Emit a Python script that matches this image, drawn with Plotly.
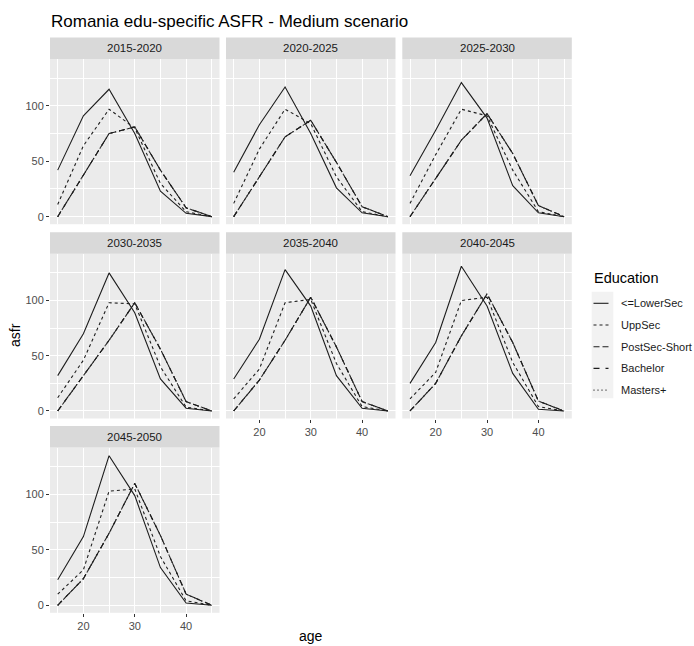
import plotly.graph_objects as go

# ---------------- data ----------------
ages = [15, 20, 25, 30, 35, 40, 45]
periods = ["2015-2020", "2020-2025", "2025-2030", "2030-2035",
           "2035-2040", "2040-2045", "2045-2050"]
education = ["<=LowerSec", "UppSec", "PostSec-Short", "Bachelor", "Masters+"]

lower_sec = {
    "2015-2020": [42, 91, 115, 75, 23, 3, 0],
    "2020-2025": [40, 83, 117, 75, 26, 3.5, 0],
    "2025-2030": [37, 78, 121, 89, 28, 3.5, 0],
    "2030-2035": [32, 70, 125, 89, 29, 2.5, 0],
    "2035-2040": [29, 65, 128, 95, 32, 2.5, 0],
    "2040-2045": [25, 62, 131, 95, 34, 1.5, 0],
    "2045-2050": [23, 62, 135, 99, 34, 2, 0],
}
upp_sec = {
    "2015-2020": [11, 64, 97, 80, 30, 4.5, 0],
    "2020-2025": [12, 61, 97, 84, 36, 4.5, 0],
    "2025-2030": [12, 56, 97, 91, 42, 4.5, 0],
    "2030-2035": [12, 46, 98, 97, 40, 3.5, 0],
    "2035-2040": [11, 38, 98, 101, 43, 4, 0],
    "2040-2045": [11, 35, 100, 103, 44, 4, 0],
    "2045-2050": [10, 32, 103, 105, 44, 4, 0],
}
postsec_short = {
    "2015-2020": [0, 37, 75, 81, 42, 8, 0],
    "2020-2025": [0, 36, 72, 87, 49, 9, 0],
    "2025-2030": [0, 34, 69, 93, 57, 10, 0],
    "2030-2035": [0, 32, 64, 98, 56, 8.5, 0],
    "2035-2040": [0, 28, 64, 103, 58, 8.5, 0],
    "2040-2045": [0, 25, 68, 106, 62, 9, 0],
    "2045-2050": [0, 24, 65, 110, 63, 10, 0],
}
bachelor = {k: list(v) for k, v in postsec_short.items()}
masters = {k: list(v) for k, v in postsec_short.items()}

series = [lower_sec, upp_sec, postsec_short, bachelor, masters]
dashes = ["solid", "3px,3px", "6px,3px", "6px,6px", "1px,3px"]

# ---------------- layout geometry ----------------
W, H = 694, 646
col_px = [(50, 219.5), (226, 395.5), (402.3, 571.8)]
row_px = [(58.9, 224.2), (253.7, 418.5), (447.5, 612.8)]
strip_h = 21.5


def px_x(a):
    return a / W


def px_y(b):
    return 1 - b / H


fig = go.Figure()
LINE = "#1e1e1e"

shapes = []
annotations = []
for i, p in enumerate(periods):
    r, c = divmod(i, 3)
    n = "" if i == 0 else str(i + 1)
    x0, x1 = col_px[c]
    yt, yb = row_px[r]
    show_x = (r == 2) or (r == 1 and c > 0)
    show_y = c == 0
    fig.update_layout({
        f"xaxis{n}": dict(
            domain=[px_x(x0), px_x(x1)], anchor=f"y{n}", range=[13.5, 46.5],
            tickvals=[20, 30, 40], showticklabels=show_x,
            ticks="outside" if show_x else "", ticklen=3, tickcolor="#333333",
            tickfont=dict(size=11, color="#4D4D4D"),
            showgrid=True, gridcolor="white", gridwidth=1.3, zeroline=False,
            minor=dict(tickvals=[15, 25, 35, 45], showgrid=True,
                       gridcolor="white", gridwidth=0.6, ticks=""),
            showline=False, fixedrange=True,
        ),
        f"yaxis{n}": dict(
            domain=[px_y(yb), px_y(yt)], anchor=f"x{n}", range=[-6.8, 142.4],
            tickvals=[0, 50, 100], showticklabels=show_y,
            ticks="outside" if show_y else "", ticklen=3, tickcolor="#333333",
            tickfont=dict(size=11, color="#4D4D4D"),
            showgrid=True, gridcolor="white", gridwidth=1.3, zeroline=False,
            minor=dict(tickvals=[25, 75, 125], showgrid=True,
                       gridcolor="white", gridwidth=0.6, ticks=""),
            showline=False, fixedrange=True,
        ),
    })
    # strip
    shapes.append(dict(type="rect", xref="paper", yref="paper",
                       x0=px_x(x0), x1=px_x(x1), y0=px_y(yt), y1=px_y(yt - strip_h),
                       fillcolor="#D9D9D9", line=dict(width=0), layer="below"))
    annotations.append(dict(text=p, xref="paper", yref="paper",
                            x=px_x((x0 + x1) / 2), y=px_y(yt - strip_h / 2),
                            xanchor="center", yanchor="middle", showarrow=False,
                            font=dict(size=11.5, color="#1A1A1A")))
    for k, (name, s) in enumerate(zip(education, series)):
        fig.add_trace(go.Scatter(
            x=ages, y=s[p], mode="lines", name=name, legendgroup=name,
            showlegend=False, xaxis=f"x{n}", yaxis=f"y{n}",
            line=dict(color=LINE, width=1.1, dash=dashes[k]),
            hoverinfo="skip",
        ))

# ---------------- legend (ggplot-style guide) ----------------
shapes.append(dict(type="rect", xref="paper", yref="paper",
                   x0=px_x(591.7), x1=px_x(613.3), y0=px_y(398.3), y1=px_y(291.7),
                   fillcolor="#F2F2F2", line=dict(width=0), layer="below"))
leg_y0, leg_step = 303.3, 21.7
for k, name in enumerate(education):
    yk = leg_y0 + k * leg_step
    shapes.append(dict(type="line", xref="paper", yref="paper",
                       x0=px_x(593.5), x1=px_x(608.5), y0=px_y(yk), y1=px_y(yk),
                       line=dict(color=LINE, width=1.1, dash=dashes[k])))
    annotations.append(dict(text=name, xref="paper", yref="paper",
                            x=px_x(619), y=px_y(yk), xanchor="left", yanchor="middle",
                            showarrow=False, font=dict(size=11, color="#1A1A1A")))
annotations.append(dict(text="Education", xref="paper", yref="paper",
                        x=px_x(592), y=px_y(278), xanchor="left", yanchor="middle",
                        showarrow=False, font=dict(size=14.5, color="#000000")))

annotations += [
    dict(text="Romania edu-specific ASFR - Medium scenario", xref="paper", yref="paper",
         x=px_x(49), y=px_y(21), xanchor="left", yanchor="middle", showarrow=False,
         font=dict(size=17, color="#000000")),
    dict(text="age", xref="paper", yref="paper", x=px_x(310.9), y=px_y(636),
         xanchor="center", yanchor="middle", showarrow=False,
         font=dict(size=14, color="#000000")),
    dict(text="asfr", xref="paper", yref="paper", x=px_x(15), y=px_y(335),
         xanchor="center", yanchor="middle", showarrow=False, textangle=-90,
         font=dict(size=14, color="#000000")),
]

fig.update_layout(
    width=W, height=H, margin=dict(l=0, r=0, t=0, b=0),
    paper_bgcolor="white", plot_bgcolor="#EBEBEB",
    font=dict(family="Liberation Sans, Arial, sans-serif"),
    shapes=shapes, annotations=annotations, showlegend=False,
)

fig.write_html("out.html")
